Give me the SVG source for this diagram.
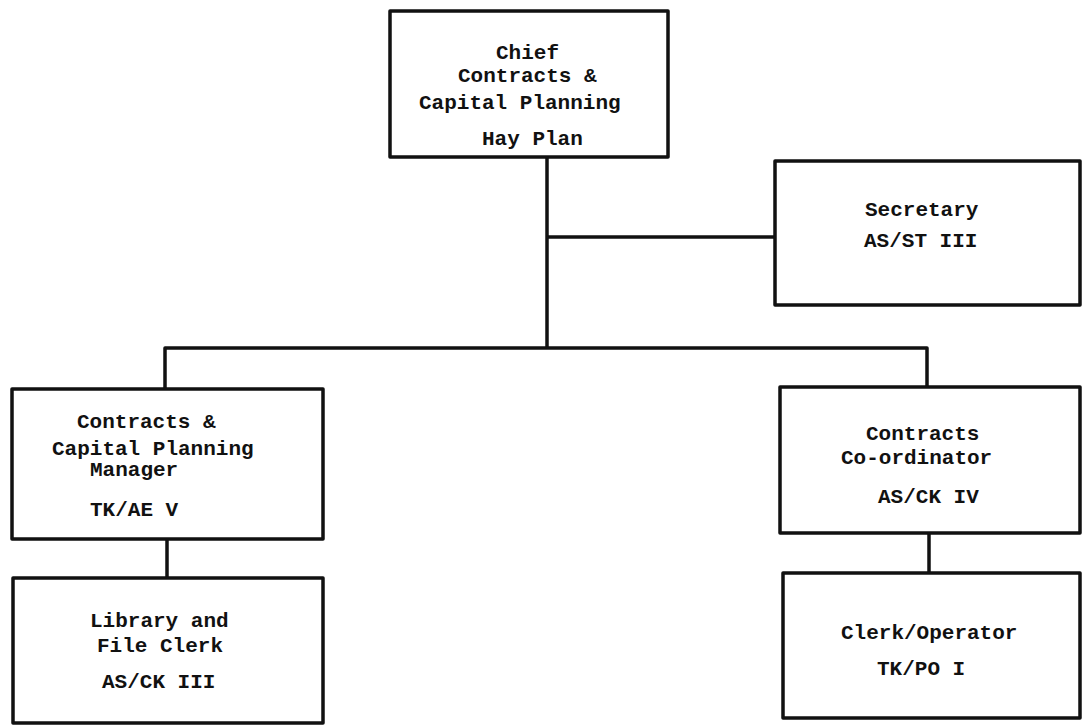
<svg xmlns="http://www.w3.org/2000/svg" width="1083" height="728" viewBox="0 0 1083 728">
  <style>
    .box { fill: #ffffff; stroke: #111111; stroke-width: 3.5; stroke-linejoin: round; }
    .link { fill: none; stroke: #111111; stroke-width: 3.5; stroke-linejoin: round; }
    .label { font-family: "Liberation Mono", "DejaVu Sans Mono", monospace; font-size: 21px; font-weight: bold; fill: #111111; }
  </style>
  <rect width="1083" height="728" fill="#ffffff"/>

  <!-- reporting lines -->
  <g id="connectors">
    <path class="link" d="M547 157 V348"/>
    <path class="link" d="M547 237 H775"/>
    <path class="link" d="M165 389 V348 H927 V387"/>
    <path class="link" d="M167 539 V578"/>
    <path class="link" d="M929 533 V573"/>
  </g>

  <g id="chief">
    <rect class="box" x="390" y="11" width="278" height="146"/>
    <text class="label" x="496" y="59">Chief</text>
    <text class="label" x="458" y="82">Contracts &amp;</text>
    <text class="label" x="419" y="109">Capital Planning</text>
    <text class="label" x="482" y="145">Hay Plan</text>
  </g>

  <g id="secretary">
    <rect class="box" x="775" y="161" width="305" height="144"/>
    <text class="label" x="865" y="216">Secretary</text>
    <text class="label" x="864" y="247">AS/ST III</text>
  </g>

  <g id="manager">
    <rect class="box" x="12" y="389" width="311" height="150"/>
    <text class="label" x="77" y="428">Contracts &amp;</text>
    <text class="label" x="52" y="455">Capital Planning</text>
    <text class="label" x="90" y="476">Manager</text>
    <text class="label" x="90" y="516">TK/AE V</text>
  </g>

  <g id="coordinator">
    <rect class="box" x="780" y="387" width="300" height="146"/>
    <text class="label" x="866" y="440">Contracts</text>
    <text class="label" x="841" y="464">Co-ordinator</text>
    <text class="label" x="878" y="503">AS/CK IV</text>
  </g>

  <g id="library-clerk">
    <rect class="box" x="13" y="578" width="310" height="145"/>
    <text class="label" x="90" y="627">Library and</text>
    <text class="label" x="97" y="652">File Clerk</text>
    <text class="label" x="102" y="688">AS/CK III</text>
  </g>

  <g id="clerk-operator">
    <rect class="box" x="783" y="573" width="297" height="145"/>
    <text class="label" x="841" y="639">Clerk/Operator</text>
    <text class="label" x="877" y="675">TK/PO I</text>
  </g>
</svg>
